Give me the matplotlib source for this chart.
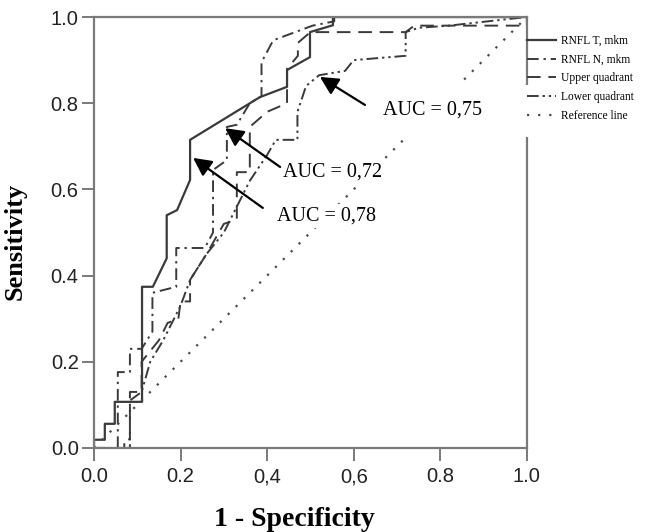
import numpy as np
import matplotlib.pyplot as plt
from matplotlib.patches import Rectangle

# ROC curves (x = 1 - specificity, y = sensitivity)
t_x = [0, 0, 0.025, 0.025, 0.048, 0.048, 0.111, 0.111, 0.136, 0.168, 0.168, 0.192, 0.222, 0.222,
       0.383, 0.446, 0.446, 0.499, 0.499, 0.552, 0.552, 1.0]
t_y = [0, 0.019, 0.019, 0.056, 0.056, 0.107, 0.107, 0.374, 0.374, 0.44, 0.54, 0.552, 0.622, 0.715,
       0.814, 0.838, 0.877, 0.907, 0.965, 0.981, 1.0, 1.0]

n_x = [0, 0.055, 0.055, 0.083, 0.083, 0.11, 0.135, 0.135, 0.19, 0.19, 0.256, 0.275, 0.275, 0.307,
       0.307, 0.33, 0.36, 0.387, 0.387, 0.414, 0.505, 0.555, 0.555, 1.0]
n_y = [0, 0, 0.176, 0.176, 0.23, 0.23, 0.27, 0.36, 0.374, 0.464, 0.464, 0.50, 0.645, 0.668,
       0.745, 0.75, 0.80, 0.816, 0.895, 0.946, 0.98, 0.99, 1.0, 1.0]

up_x = [0, 0.07, 0.07, 0.083, 0.083, 0.11, 0.11, 0.15, 0.17, 0.195, 0.2, 0.222, 0.222, 0.26,
        0.3, 0.33, 0.33, 0.36, 0.36, 0.40, 0.446, 0.446, 0.471, 0.471, 0.50, 0.72, 0.74, 1.0, 1.0]
up_y = [0, 0, 0.02, 0.02, 0.13, 0.13, 0.2, 0.25, 0.29, 0.30, 0.34, 0.34, 0.39, 0.45,
        0.52, 0.53, 0.64, 0.64, 0.745, 0.78, 0.80, 0.88, 0.91, 0.94, 0.965, 0.965, 0.98, 0.98, 1.0]

lo_x = [0, 0.083, 0.083, 0.11, 0.13, 0.16, 0.2, 0.222, 0.26, 0.30, 0.33, 0.36, 0.40, 0.42,
        0.47, 0.47, 0.49, 0.52, 0.58, 0.60, 0.72, 0.72, 0.75, 0.82, 1.0]
lo_y = [0, 0, 0.11, 0.13, 0.2, 0.25, 0.33, 0.39, 0.45, 0.50, 0.56, 0.62, 0.68, 0.715,
        0.715, 0.78, 0.84, 0.865, 0.875, 0.90, 0.91, 0.965, 0.975, 0.98, 1.0]

ref_x = [0, 1]
ref_y = [0, 1]

labels = ['RNFL T, mkm', 'RNFL N, mkm', 'Upper quadrant', 'Lower quadrant', 'Reference line']
x_ticks = [0.0, 0.2, 0.4, 0.6, 0.8, 1.0]
x_tick_labels = ['0.0', '0.2', '0,4', '0,6', '0.8', '1.0']
y_ticks = [0.0, 0.2, 0.4, 0.6, 0.8, 1.0]
y_tick_labels = ['0.0', '0.2', '0.4', '0.6', '0.8', '1.0']

auc_text = ['AUC = 0,78', 'AUC = 0,72', 'AUC = 0,75']
auc_pos = [(0.538, 0.538), (0.552, 0.640), (0.783, 0.784)]
arrow_tail = [(0.39, 0.557), (0.43, 0.652), (0.626, 0.796)]
arrow_tip = [(0.229, 0.673), (0.303, 0.742), (0.522, 0.861)]

line_col = '#3a3a3a'
frame_col = '#7a7a7a'

fig = plt.figure(figsize=(6.68, 5.32), dpi=100)
ax = fig.add_axes([0.1407, 0.158, 0.648, 0.810])

ax.plot(t_x, t_y, color=line_col, lw=1.6, ls='-', label=labels[0])
ax.plot(n_x, n_y, color=line_col, lw=1.4, ls=(0, (6, 2.5, 1.2, 2.5)), label=labels[1])
ax.plot(up_x, up_y, color=line_col, lw=1.4, ls=(0, (7, 4)), label=labels[2])
ax.plot(lo_x, lo_y, color=line_col, lw=1.4, ls=(0, (6, 2, 1.2, 2, 1.2, 2)), label=labels[3])
ax.plot(ref_x, ref_y, color='#4a4a4a', lw=1.6, ls=(0, (1, 4)), label=labels[4])

ax.set_xlim(0, 1)
ax.set_ylim(0, 1)
ax.set_xticks(x_ticks)
ax.set_xticklabels(x_tick_labels)
ax.set_yticks(y_ticks)
ax.set_yticklabels(y_tick_labels)
for lab in ax.get_xticklabels() + ax.get_yticklabels():
    lab.set_family('Liberation Sans')
    lab.set_fontsize(14.5)
    lab.set_color('#222222')
ax.tick_params(axis='both', direction='out', length=9, width=1.4, color=frame_col)
ax.tick_params(axis='x', pad=5)
ax.tick_params(axis='y', pad=2)
for sp in ax.spines.values():
    sp.set_color(frame_col)
    sp.set_linewidth(1.6)

ax.set_xlabel('1 - Specificity', family='Liberation Serif', fontweight='bold', fontsize=20)
ax.set_ylabel('Sensitivity', family='Liberation Serif', fontweight='bold', fontsize=19)
ax.xaxis.set_label_coords(0.464, -0.138)
ax.yaxis.set_label_coords(-0.155, 0.48)

# white patch behind the top annotation, it hides part of the right spine
ax.add_patch(Rectangle((0.614, 0.722), 0.393, 0.12, transform=ax.transAxes,
                       facecolor='white', edgecolor='none', zorder=3, clip_on=False))

for txt, pos, tail, tip in zip(auc_text, auc_pos, arrow_tail, arrow_tip):
    ax.text(pos[0], pos[1], txt, family='Liberation Serif', fontsize=14.5, ha='center', va='center',
            zorder=4, bbox=dict(facecolor='white', edgecolor='none', pad=2))
    ax.annotate('', xy=tip, xytext=tail, zorder=6,
                arrowprops=dict(arrowstyle='-|>,head_length=0.55,head_width=0.28', color='black',
                                lw=1.6, mutation_scale=20, shrinkA=0, shrinkB=0))

leg = ax.legend(loc='upper left', bbox_to_anchor=(1.0, 0.958), frameon=False,
                prop={'family': 'Liberation Serif', 'size': 8.3}, handlelength=2.5,
                handletextpad=0.5, labelspacing=0.58, borderpad=0, borderaxespad=0)
leg.set_zorder(5)

fig.savefig('out.png', dpi=100, facecolor='white')
